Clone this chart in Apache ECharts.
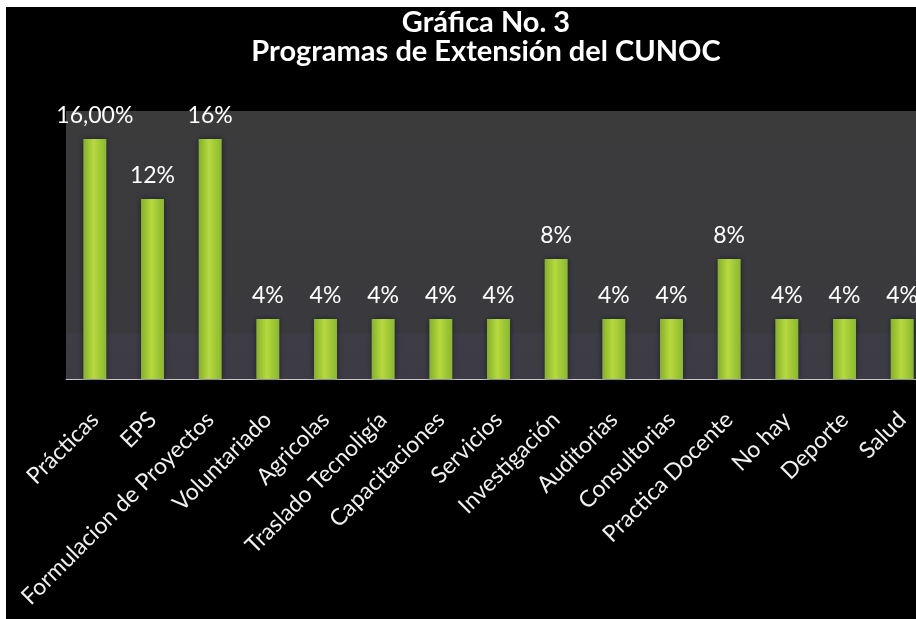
<!DOCTYPE html>
<html>
<head>
<meta charset="utf-8">
<script src="https://cdn.jsdelivr.net/npm/echarts@6/dist/echarts.min.js"></script>
<style>
  html, body { margin: 0; padding: 0; background: #000000; overflow: hidden; }
  #main { width: 916px; height: 619px; }
</style>
</head>
<body>
<div id="main"></div>
<script>
// datos de la grafica
var categorias = ['Prácticas', 'EPS', 'Formulacion de Proyectos', 'Voluntariado', 'Agricolas',
  'Traslado Tecnoligía', 'Capacitaciones', 'Servicios', 'Investigación', 'Auditorias',
  'Consultorias', 'Practica Docente', 'No hay', 'Deporte', 'Salud'];
var valores = [16, 12, 16, 4, 4, 4, 4, 4, 8, 4, 4, 8, 4, 4, 4];
var etiquetas = ['16,00%', '12%', '16%', '4%', '4%', '4%', '4%', '4%', '8%', '4%', '4%', '8%', '4%', '4%', '4%'];

var myChart = echarts.init(document.getElementById('main'));

var barColor = new echarts.graphic.LinearGradient(0, 0, 1, 0, [
  { offset: 0, color: '#86b02a' },
  { offset: 0.45, color: '#b6d93e' },
  { offset: 1, color: '#8ab82c' }
]);

var option = {
  backgroundColor: '#000000',
  animation: false,
  title: {
    text: 'Gráfica No. 3\nProgramas de Extensión del CUNOC',
    left: 481,
    textAlign: 'center',
    top: 3,
    textStyle: {
      color: '#ffffff',
      fontFamily: 'Lato',
      fontWeight: 'bold',
      fontSize: 29,
      lineHeight: 29
    }
  },
  grid: {
    left: 66,
    top: 111,
    width: 865,
    height: 268,
    outerBoundsMode: 'none',
    containLabel: false,
    show: true,
    borderWidth: 0,
    backgroundColor: new echarts.graphic.LinearGradient(0, 0, 0, 1, [
      { offset: 0, color: '#3b3b3c' },
      { offset: 0.83, color: '#3a3a3e' },
      { offset: 0.831, color: '#3e3d46' },
      { offset: 1, color: '#3c3b44' }
    ])
  },
  xAxis: {
    type: 'category',
    data: categorias,
    axisLine: { lineStyle: { color: '#c8c8c8', width: 1 } },
    axisTick: { show: false },
    axisLabel: {
      interval: 0,
      rotate: 45,
      margin: 37,
      color: '#f0f0f0',
      fontFamily: 'Lato',
      fontSize: 23
    }
  },
  yAxis: {
    type: 'value',
    min: 0,
    max: 17.87,
    show: false,
    splitLine: { show: false }
  },
  series: [{
    type: 'bar',
    data: valores,
    barWidth: 23,
    itemStyle: {
      color: barColor,
      shadowColor: 'rgba(20,20,60,0.8)',
      shadowBlur: 6
    },
    label: {
      show: true,
      position: 'top',
      distance: 12,
      color: '#ffffff',
      fontFamily: 'Lato',
      fontSize: 23,
      formatter: function (p) { return etiquetas[p.dataIndex]; }
    }
  }],
  graphic: [
    { type: 'rect', left: 0, top: 0, shape: { width: 916, height: 7 }, style: { fill: '#ffffff' }, z: 100 },
    { type: 'rect', left: 0, top: 0, shape: { width: 6, height: 619 }, style: { fill: '#ffffff' }, z: 100 }
  ]
};
myChart.setOption(option);
</script>
</body>
</html>
